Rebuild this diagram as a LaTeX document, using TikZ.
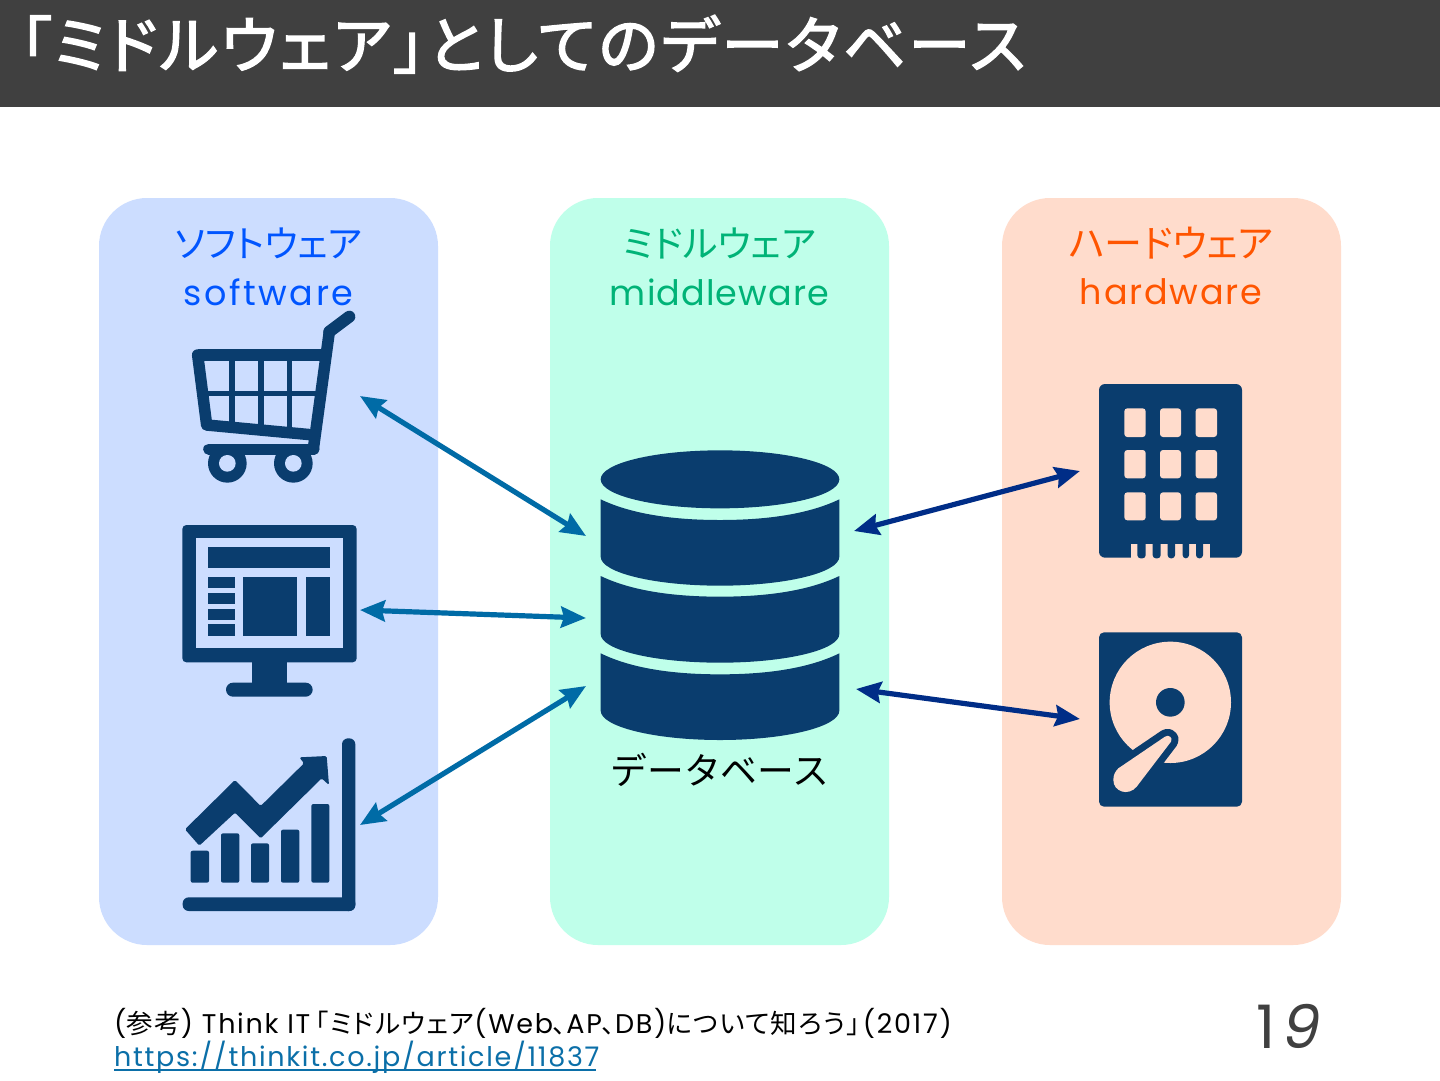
\documentclass[tikz,border=0pt]{standalone}
\usepackage{fontspec}
\setmainfont{Poppins}
\newfontfamily\jp{Noto Sans CJK JP}[RawFeature=+palt]
\newfontfamily\jpn{Noto Sans CJK JP}
\newfontfamily\jpf{Noto Sans CJK JP}[RawFeature=+palt,LetterSpace=5]
\newfontfamily\jpb{Noto Sans CJK JP}[FakeBold=2.5,RawFeature=+palt,LetterSpace=4.6]
\newfontfamily\lat{Poppins}
\newfontfamily\lata{Poppins}[LetterSpace=7.4]
\newfontfamily\latb{Poppins}[LetterSpace=3.1]
\newfontfamily\latc{Poppins}[LetterSpace=5]
\newfontfamily\latf{Poppins}[LetterSpace=6.3]
\newfontfamily\slan{Poppins}[FakeSlant=0.2]
\newcommand{\fjp}{\jpf\fontsize{26.5}{26.5}\selectfont}
\newcommand{\fla}{\latf\fontsize{27}{27}\selectfont}
\usetikzlibrary{arrows.meta}
\definecolor{dk}{HTML}{0A3D6E}
\definecolor{hdr}{HTML}{404040}
\definecolor{pb}{HTML}{CCDDFF}
\definecolor{pg}{HTML}{BFFFEA}
\definecolor{po}{HTML}{FFDCCC}
\definecolor{tb}{HTML}{0055FF}
\definecolor{tg}{HTML}{00B377}
\definecolor{to}{HTML}{FF5500}
\definecolor{al}{HTML}{006BA6}
\definecolor{ar}{HTML}{002D87}
\definecolor{lnk}{HTML}{0B6FA8}
\tikzset{
  panel/.style={rounded corners=48pt},
  icon/.style={x=0.33333pt,y=-0.33333pt},
  conn/.style={line width=5.2pt,{Stealth[length=25pt,width=21pt,inset=3pt]}-{Stealth[length=25pt,width=21pt,inset=3pt]}},
  lab/.style={inner sep=0pt,anchor=center},
  tline/.style={inner sep=0pt,anchor=base west},
}
\begin{document}
\begin{tikzpicture}[x=1pt,y=-1pt]
\useasboundingbox (0,0) rectangle (1440,1080);
\fill[white] (0,0) rectangle (1440,1080);
\fill[hdr] (0,0) rectangle (1440,107);
\node[tline,text=white,font=\jpb\fontsize{62}{62}\selectfont] (title) at (20,68) {「ミドルウェア」としてのデータベース};

\fill[pb,panel] (99,198) rectangle (438,945);
\fill[pg,panel] (550,198) rectangle (889,945);
\fill[po,panel] (1002,198) rectangle (1341,945);

\node[lab,text=tb,font=\jp\fontsize{37}{37}\selectfont] (h1) at (268.5,243) {ソフトウェア};
\node[lab,text=tb,font=\lata\fontsize{35}{35}\selectfont] (s1) at (268.5,292) {software};
\node[lab,text=tg,font=\jp\fontsize{37}{37}\selectfont] (h2) at (719.5,243) {ミドルウェア};
\node[lab,text=tg,font=\latb\fontsize{35}{35}\selectfont] (s2) at (719.5,292) {middleware};
\node[lab,text=to,font=\jp\fontsize{38}{38}\selectfont] (h3) at (1171,243) {ハードウェア};
\node[lab,text=to,font=\latc\fontsize{35}{35}\selectfont] (s3) at (1171,292) {hardware};

% cart
\begin{scope}[shift={(170,300)},icon]
 \draw[dk,line width=11.5pt,line cap=butt,line join=round] (83,165) -- (470,165);
 \draw[dk,line width=11.5pt,line cap=round,line join=round] (83,165) -- (110,375) -- (432,405);
 \draw[dk,line width=11.5pt,line cap=round,line join=round] (430,447) -- (478,95);
 \draw[dk,line width=12pt,line cap=round,line join=round] (478,95) -- (538,50);
 \draw[dk,line width=11pt,line cap=round] (116,447) -- (432,447);
 \draw[dk,line width=5.3pt] (186,165) -- (186,375);
 \draw[dk,line width=5.3pt] (273,165) -- (273,385);
 \draw[dk,line width=5.3pt] (359,165) -- (359,395);
 \draw[dk,line width=5pt] (100,280) -- (450,280);
 \fill[dk] (172,490) circle[radius=58];
 \fill[dk] (370,490) circle[radius=58];
 \fill[pb] (172,490) circle[radius=25];
 \fill[pb] (370,490) circle[radius=25];
\end{scope}

% monitor
\begin{scope}[shift={(170,515)},icon]
 \fill[dk,rounded corners=4pt] (37,30) rectangle (560,442);
 \fill[pb] (78,70) rectangle (518,400);
 \fill[dk] (115,96) rectangle (480,158);
 \fill[dk] (115,186) rectangle (195,220);
 \fill[dk] (115,233) rectangle (195,267);
 \fill[dk] (115,281) rectangle (195,315);
 \fill[dk] (115,328) rectangle (195,362);
 \fill[dk] (219,186) rectangle (381,362);
 \fill[dk] (408,186) rectangle (480,362);
 \fill[dk] (247,440) rectangle (352,510);
 \fill[dk,rounded corners=7pt] (168,503) rectangle (428,545);
\end{scope}

% chart
\begin{scope}[shift={(170,730)},icon]
 \fill[dk,rounded corners=6pt] (516,25) rectangle (556,543);
 \fill[dk,rounded corners=6pt] (38,502) rectangle (556,543);
 \fill[dk,rounded corners=2pt] (62,362) rectangle (117,458);
 \fill[dk,rounded corners=2pt] (153,310) rectangle (208,458);
 \fill[dk,rounded corners=2pt] (243,340) rectangle (297,458);
 \fill[dk,rounded corners=2pt] (333,299) rectangle (388,458);
 \fill[dk,rounded corners=2pt] (424,222) rectangle (478,458);
 \fill[dk,rounded corners=1.5pt] (45,298) -- (195,150) -- (272,228) -- (402,100) -- (388,82) -- (470,78) -- (477,165) -- (455,145) -- (272,325) -- (195,248) -- (88,347) -- cycle;
\end{scope}

% database
\begin{scope}[shift={(590,440)},icon]
 \fill[dk] (390,118) ellipse[x radius=358,y radius=87];
 \fill[dk] (32,178) .. controls (130,225) and (260,240) .. (390,240) .. controls (520,240) and (650,225) .. (748,178) -- (748,350) .. controls (748,398) and (587,437) .. (390,437) .. controls (193,437) and (32,398) .. (32,350) -- cycle;
 \fill[dk] (32,408) .. controls (130,455) and (260,470) .. (390,470) .. controls (520,470) and (650,455) .. (748,408) -- (748,582) .. controls (748,630) and (587,668) .. (390,668) .. controls (193,668) and (32,630) .. (32,582) -- cycle;
 \fill[dk] (32,640) .. controls (130,688) and (260,703) .. (390,703) .. controls (520,703) and (650,688) .. (748,640) -- (748,812) .. controls (748,860) and (587,900) .. (390,900) .. controls (193,900) and (32,860) .. (32,812) -- cycle;
\end{scope}
\node[lab,text=black,font=\jpn\fontsize{36.8}{36.8}\selectfont] (db) at (720,770) {データベース};

% building
\begin{scope}[shift={(1090,375)},icon]
 \fill[dk,rounded corners=6pt] (27,27) rectangle (456,548);
 \foreach \xa/\xb in {103/167,210/273,317/381}
  \foreach \ya/\yb in {100/186,225/310,352/436}
   \fill[po,rounded corners=3pt] (\xa,\ya) rectangle (\xb,\yb);
 \fill[po] (122,508) rectangle (360,549);
 \foreach \xa/\xb in {142/167,188/212,233/255,278/297,318/339}
  \fill[dk,rounded corners=3.2pt] (\xa,495) rectangle (\xb,550);
\end{scope}

% disk
\begin{scope}[shift={(1090,625)},icon]
 \fill[dk,rounded corners=5pt] (27,22) rectangle (456,545);
 \fill[po] (241,232) circle[radius=182];
 \fill[dk] (241,232) circle[radius=43];
 \draw[dk,line width=14pt,line join=round] (225,335) .. controls (235,327) and (250,338) .. (243,350) -- (140,485) .. controls (115,515) and (70,500) .. (70,465) .. controls (70,450) and (75,440) .. (85,430) -- cycle;
 \fill[po] (225,335) .. controls (235,327) and (250,338) .. (243,350) -- (140,485) .. controls (115,515) and (70,500) .. (70,465) .. controls (70,450) and (75,440) .. (85,430) -- cycle;
\end{scope}

% connectors
\coordinate (c1) at (360,396); \coordinate (d1) at (586,536);
\coordinate (c2) at (360,610); \coordinate (d2) at (586,618);
\coordinate (c3) at (360,825); \coordinate (d3) at (586,686);
\coordinate (e1) at (854,531); \coordinate (f1) at (1080,471);
\coordinate (e2) at (856,689); \coordinate (f2) at (1080,719);
\draw[conn,al] (c1) -- (d1);
\draw[conn,al] (c2) -- (d2);
\draw[conn,al] (c3) -- (d3);
\draw[conn,ar] (e1) -- (f1);
\draw[conn,ar] (e2) -- (f2);

% footer
\node[tline,font=\fla] (ref) at (114,1033) {({\fjp 参考}) Think IT\kern5pt{\fjp「ミドルウェア}(Web{\fjp 、}AP{\fjp 、}DB){\fjp について知ろう」}\kern3pt(2017)};
\node[tline,text=lnk,font=\fla] (url) at (114,1066) {https://thinkit.co.jp/article/11837};
\draw[lnk,line width=1.5pt] (114,1070) -- (596,1070);
\node[tline,text=hdr,font=\lat\fontsize{60}{60}\selectfont] (pg) at (1256,1048) {1\kern4pt{\slan 9}};
\end{tikzpicture}
\end{document}
